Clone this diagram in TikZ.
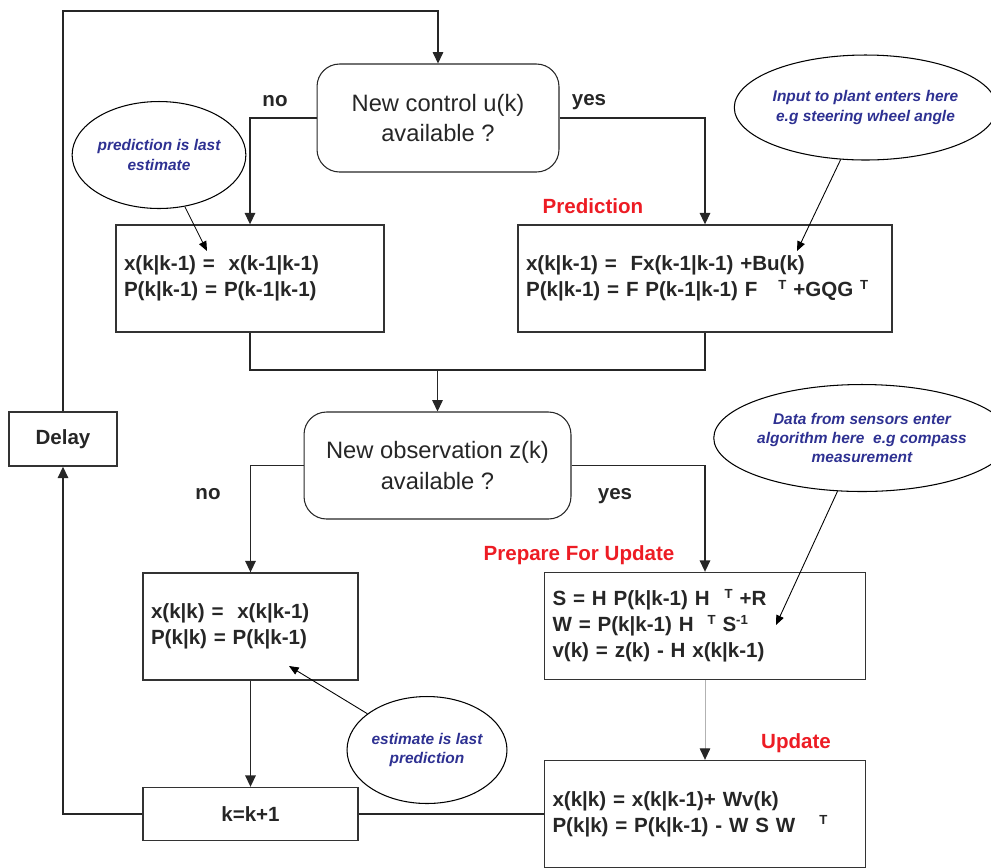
\documentclass[tikz,border=0pt]{standalone}
\usepackage{fontspec}
\setmainfont{Liberation Sans}
\usetikzlibrary{arrows.meta,shapes.geometric}

\definecolor{noteblue}{RGB}{46,49,146}
\definecolor{stagered}{RGB}{237,28,36}

% small raised transpose marks
\newcommand{\sups}[1]{\raisebox{4.2pt}{\fontsize{7.5}{8}\selectfont #1}}

\tikzset{
  box/.style={draw=black!80, line width=0.8pt, minimum height=2.14cm, inner xsep=0.16cm, inner ysep=0pt, align=left, font=\fontsize{11.7}{14.8}\selectfont\bfseries, text=black!85},
  decision/.style={draw=black!85, line width=0.6pt, rounded corners=0.45cm, align=center, font=\fontsize{13.5}{17.6}\selectfont, text=black!85},
  note/.style={draw, ellipse, line width=0.6pt, inner sep=0pt, align=center, text=noteblue, font=\fontsize{8.8}{11}\selectfont\bfseries\itshape},
  flow/.style={line width=0.7pt, draw=black!85, -{Triangle[width=6pt,length=6.5pt,color=black!85]}},
  link/.style={line width=0.7pt, draw=black!85},
  pointer/.style={line width=0.5pt, -{Triangle[width=4.5pt,length=5.5pt]}},
  stagelabel/.style={anchor=base, text=stagered, font=\fontsize{11.7}{14}\selectfont\bfseries},
  branch/.style={anchor=base, text=black!85, font=\fontsize{11.7}{14}\selectfont\bfseries}
}

\begin{document}
\begin{tikzpicture}[x=0.02cm, y=-0.02cm]

\useasboundingbox (0,0) rectangle (991,867);

% Decisions
\node[decision, minimum width=4.84cm, minimum height=2.16cm] (ctrl) at (438,118) {New control u(k)\\available ?};
\node[decision, minimum width=5.34cm, minimum height=2.14cm] (obs) at (437.5,465.5) {New observation z(k)\\available ?};

% Prediction boxes
\node[box, text width=5.04cm] (predno) at (250,278.5) {x(k|k-1) =\ \ x(k-1|k-1)\\P(k|k-1) = P(k-1|k-1)};
\node[box, text width=7.16cm] (predyes) at (705,278.5) {x(k|k-1) =\ \ Fx(k-1|k-1) +Bu(k)\\P(k|k-1) = F P(k-1|k-1) F\hspace{0.42cm}\sups{T} +GQG \sups{T}};

% Update boxes
\node[box, text width=3.98cm] (updno) at (250.5,626.5) {x(k|k) =\ \ x(k|k-1)\\P(k|k) = P(k|k-1)};
\node[box, text width=6.1cm] (prep) at (705,626) {S = H P(k|k-1) H\hspace{0.3cm}\sups{T} +R\\W = P(k|k-1) H\hspace{0.28cm}\sups{T} S\sups{-1}\\v(k) = z(k) - H x(k|k-1)};
\node[box, text width=6.1cm] (upd) at (705,814) {x(k|k) = x(k|k-1)+ Wv(k)\\P(k|k) = P(k|k-1) - W S W\hspace{0.48cm}\sups{T}};

% Step and delay
\node[box, align=center, minimum width=4.3cm, minimum height=1.06cm] (kstep) at (250.5,814) {k=k+1};
\node[box, align=center, minimum width=2.16cm, minimum height=1.08cm] (delay) at (63,439) {Delay};

% Stage labels
\node[stagelabel] (lpred) at (593,213) {Prediction};
\node[stagelabel] (lprep) at (579,560) {Prepare For Update};
\node[stagelabel] (lupd) at (796,748) {Update};

% Branch labels
\node[branch] (no1) at (275,106) {no};
\node[branch] (yes1) at (589,105) {yes};
\node[branch] (no2) at (208,499) {no};
\node[branch] (yes2) at (615,499) {yes};

% Notes
\node[note, minimum width=3.22cm, minimum height=2.14cm] (notepred) at (159,155) {prediction is last\\estimate};
\node[note, minimum width=4.5cm, minimum height=2.1cm] (notein) at (865.5,107.5) {Input to plant enters here\\e.g steering wheel angle};
\node[note, minimum width=5.16cm, minimum height=2.14cm] (notedata) at (862,438) {Data from sensors enter\\algorithm here\ \ e.g compass\\measurement};
\node[note, minimum width=3.2cm, minimum height=2.14cm] (noteest) at (427,750) {estimate is last\\prediction};

\coordinate (tippred) at (207,251);
\coordinate (tipin) at (797,251);
\coordinate (tipdata) at (776,625);
\coordinate (tipest) at (289,666);
\coordinate (looptop) at (438,11);
\coordinate (merge) at (437.5,370);

% Flow
\draw[flow] (delay.north) |- (looptop) -- (ctrl.north);
\draw[flow] (ctrl.west) -| (predno.north);
\draw[flow] (ctrl.east) -| (predyes.north);
\draw[link] (predno.south) |- (merge);
\draw[link] (predyes.south) |- (merge);
\draw[flow] (merge) -- (obs.north);
\draw[flow] (obs.west) -| (updno.north);
\draw[flow] (obs.east) -| (prep.north);
\draw[flow] (updno) -- (kstep);
\draw[flow, draw=black!30, line width=0.5pt] (prep) -- (upd);
\draw[link] (upd.west) -- (kstep.east);
\draw[flow] (kstep.west) -| (delay.south);

% Pointers
\draw[pointer] (notepred) -- (tippred);
\draw[pointer] (notein) -- (tipin);
\draw[pointer] (notedata) -- (tipdata);
\draw[pointer] (noteest) -- (tipest);

\end{tikzpicture}
\end{document}
